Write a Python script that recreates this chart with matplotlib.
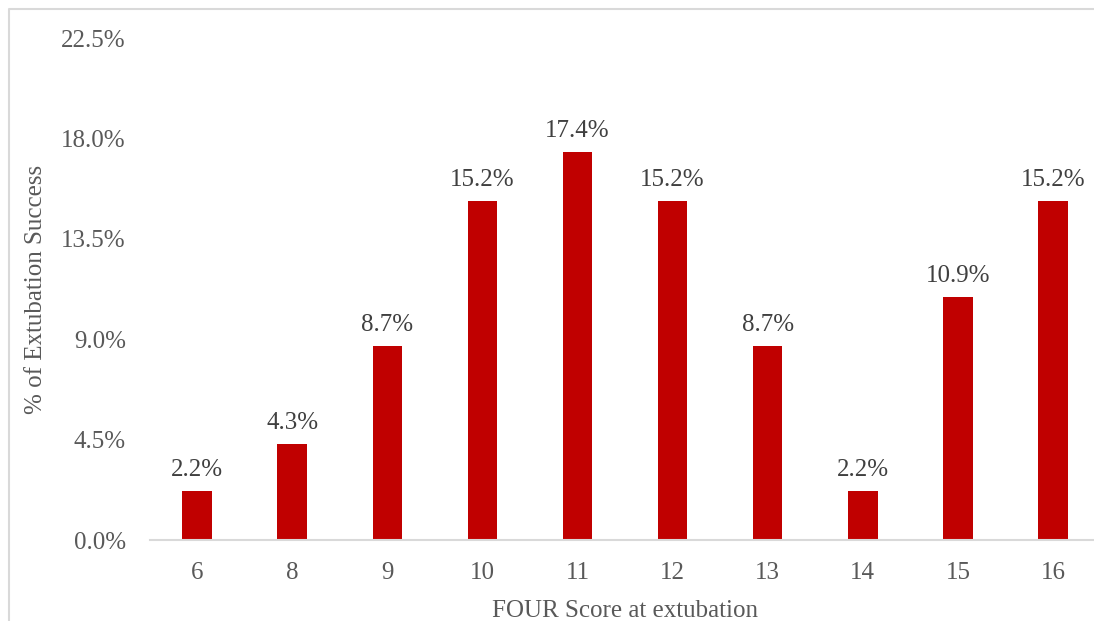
import matplotlib.pyplot as plt
from matplotlib.lines import Line2D

plt.rcParams['font.family'] = ['Liberation Serif', 'DejaVu Serif']

scores = ['6', '8', '9', '10', '11', '12', '13', '14', '15', '16']
success = [2.2, 4.3, 8.7, 15.2, 17.4, 15.2, 8.7, 2.2, 10.9, 15.2]
yticks = [0.0, 4.5, 9.0, 13.5, 18.0, 22.5]

fig = plt.figure(figsize=(10.94, 6.21), dpi=100)
ax = fig.add_axes([0.1367, 0.1304, 0.8693, 0.8084])

x = range(len(scores))
ax.bar(x, success, width=0.31, color='#C00000')
for i, v in zip(x, success):
    ax.text(i, v + 0.45, '%.1f%%' % v, ha='center', va='bottom',
            fontsize=18, color='#404040')

ax.set_xlim(-0.5, len(scores) - 0.5)
ax.set_ylim(0, 22.5)
ax.set_xticks(list(x))
ax.set_xticklabels(scores)
ax.set_yticks(yticks)
ax.set_yticklabels(['%.1f%%' % t for t in yticks])
ax.tick_params(length=0, labelsize=18, labelcolor='#595959')
ax.tick_params(axis='y', pad=17)
ax.tick_params(axis='x', pad=16)

for s in ['top', 'right', 'left']:
    ax.spines[s].set_visible(False)
ax.spines['bottom'].set_color('#D9D9D9')
ax.spines['bottom'].set_linewidth(1.5)

ax.set_xlabel('FOUR Score at extubation', fontsize=18, color='#595959', labelpad=11)
ax.set_ylabel('% of Extubation Success', fontsize=18, color='#595959', labelpad=10)

# chart border (left and top only visible)
bx = 8.5 / 1094
by = 1 - 8.5 / 621
fig.lines.append(Line2D([bx, bx, 1], [0, by, by], transform=fig.transFigure,
                        color='#D9D9D9', linewidth=1.5))

fig.savefig('out.png', dpi=100)
